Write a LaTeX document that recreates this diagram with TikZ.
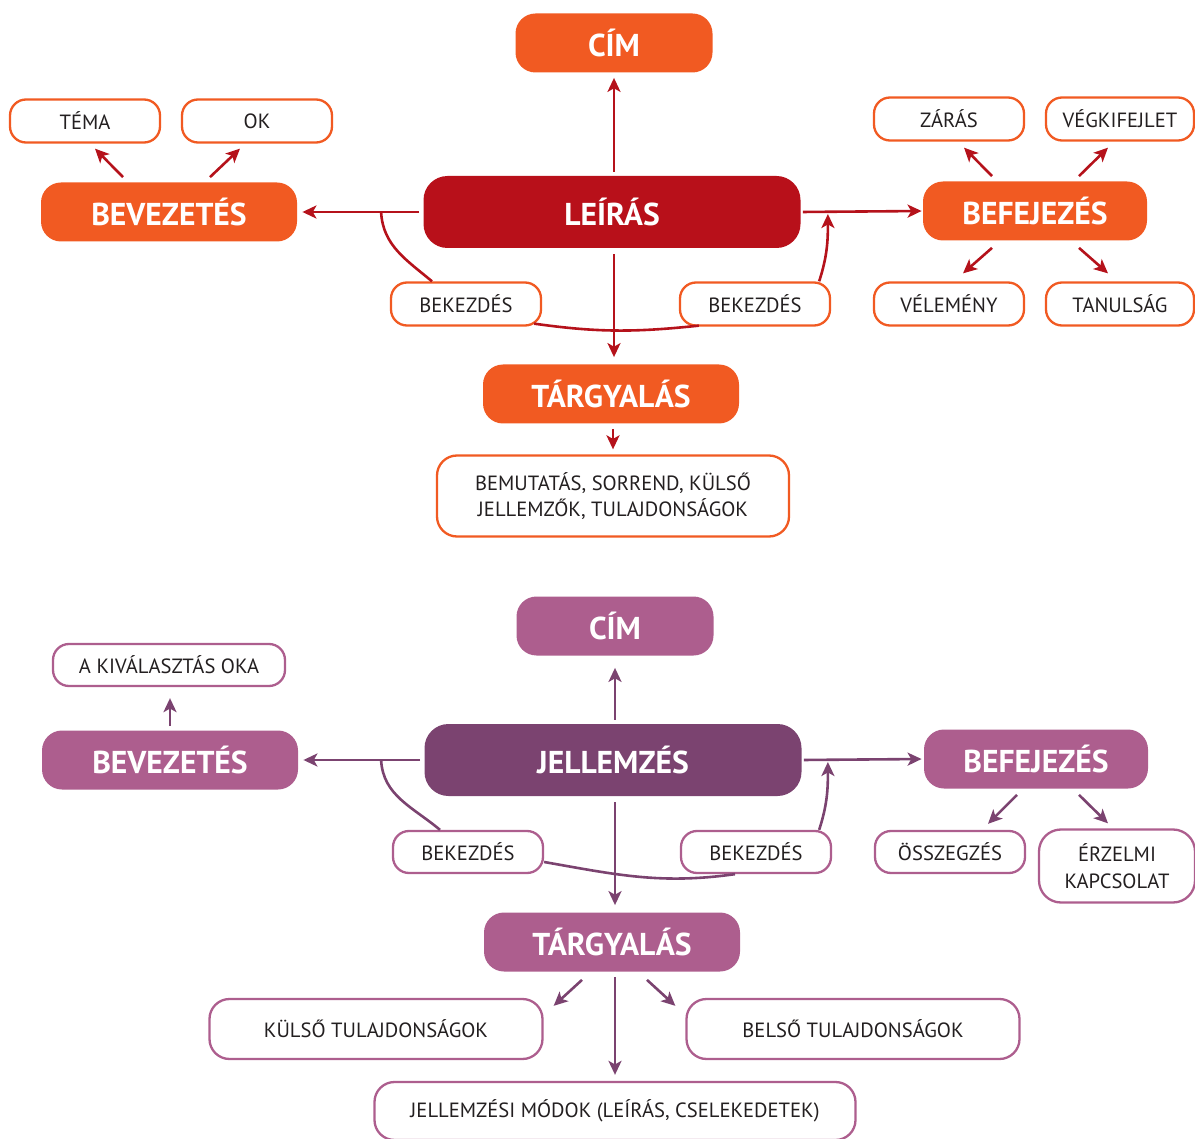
\documentclass[tikz,border=0pt]{standalone}
\usepackage{fontspec}
\setmainfont{PT Sans}
\usetikzlibrary{arrows.meta}

\definecolor{orng}{HTML}{F15A22}
\definecolor{dred}{HTML}{B8101A}
\definecolor{redln}{HTML}{B5121B}
\definecolor{mauve}{HTML}{AD5E8E}
\definecolor{dpurp}{HTML}{7B4370}
\definecolor{txt}{HTML}{231F20}

\tikzset{
  head/.style={rectangle, rounded corners=10pt, fill=#1, text=white,
    font=\bfseries\fontsize{15.8}{18}\selectfont, inner sep=0pt},
  sub/.style={rectangle, rounded corners=8pt, draw=#1, line width=1.15pt, fill=white,
    text=txt, font=\fontsize{10.3}{13.2}\selectfont, align=center, inner sep=0pt},
  arr/.style={draw=#1, line width=1.3pt, -{Stealth[length=7pt,width=6.5pt,inset=1.8pt]}},
  link/.style={draw=#1, line width=1.3pt},
}

\begin{document}
\begin{tikzpicture}[x=0.5pt,y=-0.5pt]
  \useasboundingbox (0,0) rectangle (1195,1139);

  % ---- leiras ----
  \node[head=orng, minimum width=98.5pt, minimum height=29.5pt] (cim1) at (614,43) {CÍM};
  \node[head=dred, minimum width=188.5pt, minimum height=36pt, rounded corners=12pt] (leiras) at (612,212) {LEÍRÁS};
  \node[head=orng, minimum width=128pt, minimum height=29.5pt] (bev1) at (169,212) {BEVEZETÉS};
  \node[head=orng, minimum width=112pt, minimum height=29.5pt] (bef1) at (1035,211) {BEFEJEZÉS};
  \node[head=orng, minimum width=128pt, minimum height=29.5pt] (targy1) at (611,394) {TÁRGYALÁS};

  \node[sub=orng, minimum width=75pt, minimum height=21.5pt] (tema) at (85,121) {TÉMA};
  \node[sub=orng, minimum width=75pt, minimum height=21.5pt] (ok) at (257,121) {OK};
  \node[sub=orng, minimum width=75pt, minimum height=21.5pt] (zaras) at (949,119) {ZÁRÁS};
  \node[sub=orng, minimum width=74pt, minimum height=21.5pt] (vegk) at (1120,119) {VÉGKIFEJLET};
  \node[sub=orng, minimum width=75pt, minimum height=21.5pt] (velem) at (949,304) {VÉLEMÉNY};
  \node[sub=orng, minimum width=74pt, minimum height=21.5pt] (tanul) at (1120,304) {TANULSÁG};
  \node[sub=orng, minimum width=75pt, minimum height=21.5pt] (bek1) at (466,304) {BEKEZDÉS};
  \node[sub=orng, minimum width=75pt, minimum height=21.5pt] (bek2) at (755,304) {BEKEZDÉS};
  \node[sub=orng, minimum width=176pt, minimum height=40.5pt, rounded corners=10pt] (bemut) at (613,496)
    {BEMUTATÁS, SORREND, KÜLSŐ\\JELLEMZŐK, TULAJDONSÁGOK};

  % main arrows
  \draw[arr=redln, shorten <=2pt, shorten >=2.5pt] ([xshift=1pt]leiras.north) -- ([xshift=1pt]leiras.north |- cim1.south);
  \draw[arr=redln, shorten <=2pt, shorten >=2.5pt] (leiras.west) -- (bev1.east);
  \draw[arr=redln, shorten <=1pt, shorten >=0.5pt] (leiras.east) -- (bef1.west);
  \draw[arr=redln, shorten <=3pt, shorten >=3.5pt] ([xshift=1pt]leiras.south) -- ([xshift=1pt]leiras.south |- targy1.north);
  \draw[arr=redln, shorten <=2.5pt, shorten >=2.5pt] ([xshift=1pt]targy1.south) -- ([xshift=1pt]targy1.south |- bemut.north);

  % small arrows
  \draw[arr=redln] ([xshift=-23pt,yshift=2.5pt]bev1.north) -- ([xshift=5pt,yshift=-2.5pt]tema.south);
  \draw[arr=redln] ([xshift=20.5pt,yshift=2.5pt]bev1.north) -- ([xshift=-8.5pt,yshift=-2.5pt]ok.south);
  \draw[arr=redln] ([xshift=-21.5pt,yshift=2.5pt]bef1.north) -- ([xshift=7.5pt,yshift=-3pt]zaras.south);
  \draw[arr=redln] ([xshift=22pt,yshift=2.5pt]bef1.north) -- ([xshift=-6pt,yshift=-3pt]vegk.south);
  \draw[arr=redln] ([xshift=-21.5pt,yshift=-3.5pt]bef1.south) -- ([xshift=7pt,yshift=4pt]velem.north);
  \draw[arr=redln] ([xshift=22pt,yshift=-3.5pt]bef1.south) -- ([xshift=-6pt,yshift=4pt]tanul.north);

  % paragraph chain
  \draw[link=redln] ([xshift=-21pt]leiras.west) to[out=-87,in=140] ([xshift=-17pt]bek1.north);
  \draw[link=redln] ([xshift=-4pt,yshift=1.5pt]bek1.south east) to[out=-8,in=186] ([xshift=10pt,yshift=0.5pt]bek2.south west);
  \draw[arr=redln] ([xshift=-6pt]bek2.north east) to[out=72,in=-90] ([xshift=13.5pt,yshift=-1pt]leiras.east);

  % ---- jellemzes ----
  \node[head=mauve, minimum width=98.5pt, minimum height=29.5pt] (cim2) at (615,626) {CÍM};
  \node[head=dpurp, minimum width=188.5pt, minimum height=36pt, rounded corners=12pt] (jell) at (613,760) {JELLEMZÉS};
  \node[head=mauve, minimum width=128pt, minimum height=29.5pt] (bev2) at (170,760) {BEVEZETÉS};
  \node[head=mauve, minimum width=112pt, minimum height=29.5pt] (bef2) at (1036,759) {BEFEJEZÉS};
  \node[head=mauve, minimum width=128pt, minimum height=29.5pt] (targy2) at (612,942) {TÁRGYALÁS};

  \node[sub=mauve, minimum width=116pt, minimum height=21pt] (akiv) at (169,665) {A KIVÁLASZTÁS OKA};
  \node[sub=mauve, minimum width=75pt, minimum height=21pt] (ossz) at (950,852) {ÖSSZEGZÉS};
  \node[sub=mauve, minimum width=78pt, minimum height=36.5pt, rounded corners=11pt] (erz) at (1117,866) {ÉRZELMI\\KAPCSOLAT};
  \node[sub=mauve, minimum width=75pt, minimum height=21pt] (bek3) at (468,852) {BEKEZDÉS};
  \node[sub=mauve, minimum width=75pt, minimum height=21pt] (bek4) at (756,852) {BEKEZDÉS};
  \node[sub=mauve, minimum width=166.5pt, minimum height=30pt, rounded corners=10pt] (kulso) at (376,1029) {KÜLSŐ TULAJDONSÁGOK};
  \node[sub=mauve, minimum width=166.5pt, minimum height=30pt, rounded corners=10pt] (belso) at (853,1029) {BELSŐ TULAJDONSÁGOK};
  \node[sub=mauve, minimum width=240.5pt, minimum height=29pt, rounded corners=10pt] (modok) at (615,1111) {JELLEMZÉSI MÓDOK (LEÍRÁS, CSELEKEDETEK)};

  % main arrows
  \draw[arr=dpurp, shorten <=2pt, shorten >=6pt] ([xshift=1pt]jell.north) -- ([xshift=1pt]jell.north |- cim2.south);
  \draw[arr=dpurp, shorten <=2pt, shorten >=2.5pt] (jell.west) -- (bev2.east);
  \draw[arr=dpurp, shorten <=1pt, shorten >=1pt] (jell.east) -- (bef2.west);
  \draw[arr=dpurp, shorten <=3pt, shorten >=3.5pt] ([xshift=1pt]jell.south) -- ([xshift=1pt]jell.south |- targy2.north);
  \draw[arr=dpurp, shorten <=2.5pt, shorten >=3pt] ([xshift=1.5pt]targy2.south) -- ([xshift=1.5pt]targy2.south |- modok.north);

  % small arrows
  \draw[arr=dpurp] ([yshift=2pt]bev2.north) -- ([xshift=0.5pt,yshift=-5.5pt]akiv.south);
  \draw[arr=dpurp] ([xshift=-9.5pt,yshift=-3pt]bef2.south) -- ([xshift=19pt,yshift=3pt]ossz.north);
  \draw[arr=dpurp] ([xshift=21.5pt,yshift=-3pt]bef2.south) -- ([xshift=-4.5pt,yshift=2.5pt]erz.north);
  \draw[arr=dpurp] ([xshift=-15pt,yshift=-4pt]targy2.south) -- ([xshift=5pt,yshift=-4pt]kulso.north east);
  \draw[arr=dpurp] ([xshift=17.5pt,yshift=-4pt]targy2.south) -- ([xshift=-5pt,yshift=-4pt]belso.north west);

  % paragraph chain
  \draw[link=dpurp] ([xshift=-21.5pt]jell.west) to[out=-87,in=140] ([xshift=-14pt]bek3.north);
  \draw[link=dpurp] ([yshift=-5pt]bek3.east) to[out=-10,in=188] ([xshift=-10.5pt]bek4.south);
  \draw[arr=dpurp] ([xshift=-6.5pt]bek4.north east) to[out=72,in=-90] ([xshift=13pt,yshift=-1pt]jell.east);
\end{tikzpicture}
\end{document}
